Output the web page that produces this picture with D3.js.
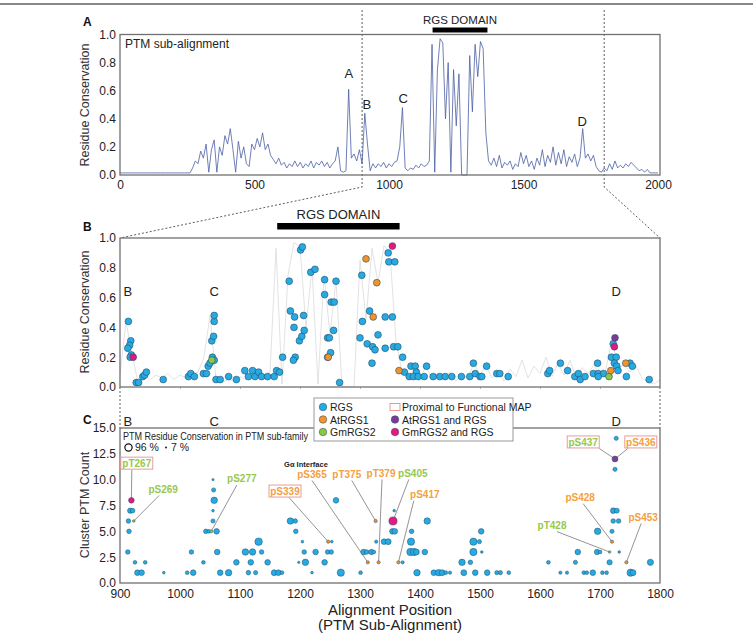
<!DOCTYPE html>
<html>
<head>
<meta charset="utf-8">
<script src="https://cdn.jsdelivr.net/npm/d3@7"></script>
<style>
  body { margin: 0; background: #fff; }
  svg { font-family: 'Liberation Sans', Arial, Helvetica, sans-serif; }
</style>
</head>
<body>
<svg id="chart"></svg>
<script>
// residue conservation along the PTM sub-alignment, one value every 10 positions (0..2000)
const consStep = 10
const conservation = [
  0.015, 0.015, 0.015, 0.015, 0.015, 0.015, 0.015, 0.015, 0.015, 0.015,
  0.015, 0.015, 0.015, 0.015, 0.015, 0.015, 0.015, 0.015, 0.015, 0.015,
  0.015, 0.015, 0.015, 0.015, 0.015, 0.015, 0.015,
  0.05, 0.10, 0.08, 0.17, 0.12, 0.22, 0.02, 0.18, 0.25, 0.02,
  0.20, 0.14, 0.28, 0.22, 0.33, 0.18, 0.02, 0.24, 0.12, 0.20,
  0.08, 0.06, 0.22, 0.18, 0.26, 0.20, 0.30, 0.18, 0.22, 0.14,
  0.11, 0.08, 0.12, 0.07, 0.09, 0.05, 0.08, 0.06, 0.10, 0.06,
  0.09, 0.05, 0.08, 0.06, 0.10, 0.05, 0.09, 0.07, 0.10, 0.06,
  0.09, 0.05, 0.08, 0.10, 0.20, 0.03, 0.02, 0.03, 0.61, 0.12,
  0.15, 0.10, 0.18, 0.08, 0.44, 0.22, 0.03, 0.08, 0.05, 0.08,
  0.06, 0.09, 0.05, 0.08, 0.06, 0.09, 0.10, 0.20, 0.48, 0.05,
  0.03, 0.05, 0.04, 0.07, 0.05, 0.08, 0.06, 0.07, 0.10, 0.93,
  0.02, 0.75, 0.97, 0.94, 0.40, 0.80, 0.02, 0.75, 0.35, 0.72,
  0.0, 0.0, 0.0, 0.85, 0.45, 0.93, 0.70, 0.95, 0.90, 0.30,
  0.10,
  0.07, 0.12, 0.06, 0.14, 0.05, 0.09, 0.07, 0.10, 0.04, 0.08,
  0.06, 0.16, 0.08, 0.14, 0.06, 0.10, 0.04, 0.12, 0.07, 0.18,
  0.06, 0.14, 0.09, 0.20, 0.07, 0.16, 0.08, 0.18, 0.06, 0.13,
  0.09, 0.15, 0.06, 0.12, 0.33, 0.12, 0.15, 0.10, 0.14, 0.06,
  0.03, 0.02, 0.05, 0.03, 0.08, 0.04, 0.10, 0.05, 0.07, 0.05,
  0.08, 0.06, 0.09, 0.07, 0.05, 0.03, 0.04, 0.02, 0.04,
  0.015, 0.015, 0.015, 0.015
]

const rgsDomain = [1162, 1366]
const zoomRange = [900, 1800]
const fullTicks = [0, 500, 1000, 1500, 2000]
const consTicks = [0, 0.2, 0.4, 0.6, 0.8, 1.0]
const countTicks = [0, 2.5, 5, 7.5, 10, 12.5, 15]
const posTicks = [900, 1000, 1100, 1200, 1300, 1400, 1500, 1600, 1700, 1800]

// peak names in panel A: [label, position, conservation]
const peakLabels = [['A', 851, 0.69], ['B', 918, 0.47], ['C', 1053, 0.51], ['D', 1718, 0.35]]
// region names in panels B and C
const regionLabels = [['B', 913], ['C', 1057], ['D', 1727]]

const categories = ['RGS', 'AtRGS1', 'GmRGS2', 'AtRGS1 and RGS', 'GmRGS2 and RGS']
const catKeys = ['rgs', 'at', 'gm', 'at2', 'gm2']

// panel B: PTM sites [position, conservation, category]
const ptmSites = [
  [914, 0.44, 'rgs'], [918, 0.31, 'rgs'], [916, 0.28, 'rgs'], [913, 0.26, 'rgs'], [919, 0.215, 'rgs'],
  [917, 0.20, 'rgs'], [922, 0.20, 'gm2'], [927, 0.03, 'rgs'], [931, 0.03, 'rgs'], [938, 0.07, 'rgs'],
  [941, 0.08, 'rgs'], [944, 0.10, 'rgs'], [972, 0.05, 'rgs'], [1014, 0.07, 'rgs'], [1018, 0.09, 'rgs'],
  [1024, 0.07, 'rgs'], [1039, 0.09, 'rgs'], [1044, 0.09, 'rgs'], [1047, 0.14, 'rgs'], [1050, 0.16, 'rgs'],
  [1054, 0.20, 'rgs'], [1057, 0.18, 'rgs'], [1053, 0.18, 'gm'], [1053, 0.31, 'rgs'], [1056, 0.34, 'rgs'],
  [1057, 0.44, 'rgs'], [1057, 0.48, 'rgs'], [1060, 0.05, 'rgs'], [1067, 0.05, 'rgs'], [1081, 0.07, 'rgs'],
  [1094, 0.05, 'rgs'], [1108, 0.11, 'rgs'], [1121, 0.11, 'rgs'], [1114, 0.07, 'rgs'], [1125, 0.07, 'rgs'],
  [1131, 0.10, 'rgs'], [1136, 0.07, 'rgs'], [1146, 0.07, 'rgs'], [1157, 0.07, 'rgs'], [1161, 0.11, 'rgs'],
  [1166, 0.10, 'rgs'], [1171, 0.20, 'rgs'], [1182, 0.71, 'rgs'], [1184, 0.51, 'rgs'], [1191, 0.47, 'rgs'],
  [1190, 0.40, 'rgs'], [1192, 0.20, 'rgs'], [1189, 0.18, 'rgs'], [1201, 0.92, 'rgs'], [1204, 0.94, 'rgs'],
  [1199, 0.31, 'rgs'], [1203, 0.34, 'rgs'], [1207, 0.38, 'rgs'], [1206, 0.48, 'rgs'], [1218, 0.77, 'rgs'],
  [1225, 0.79, 'rgs'], [1241, 0.72, 'rgs'], [1241, 0.62, 'rgs'], [1252, 0.57, 'rgs'], [1257, 0.57, 'rgs'],
  [1260, 0.71, 'rgs'], [1256, 0.38, 'rgs'], [1246, 0.33, 'rgs'], [1249, 0.33, 'rgs'], [1251, 0.23, 'rgs'],
  [1246, 0.20, 'rgs'], [1247, 0.20, 'at'], [1266, 0.03, 'rgs'], [1303, 0.75, 'rgs'], [1310, 0.86, 'at'],
  [1328, 0.70, 'at'], [1322, 0.47, 'at'], [1304, 0.44, 'rgs'], [1316, 0.51, 'rgs'], [1300, 0.33, 'rgs'],
  [1312, 0.29, 'rgs'], [1321, 0.27, 'rgs'], [1325, 0.25, 'rgs'], [1320, 0.16, 'rgs'], [1330, 0.35, 'rgs'],
  [1342, 0.47, 'rgs'], [1342, 0.26, 'rgs'], [1347, 0.90, 'rgs'], [1354, 0.946, 'gm2'], [1348, 0.84, 'rgs'],
  [1358, 0.84, 'rgs'], [1354, 0.47, 'rgs'], [1356, 0.27, 'rgs'], [1363, 0.27, 'rgs'], [1371, 0.20, 'rgs'],
  [1365, 0.11, 'at'], [1374, 0.10, 'rgs'], [1385, 0.14, 'rgs'], [1392, 0.14, 'rgs'], [1394, 0.10, 'rgs'],
  [1411, 0.14, 'rgs'], [1382, 0.07, 'rgs'], [1389, 0.07, 'rgs'], [1397, 0.07, 'rgs'], [1407, 0.07, 'rgs'],
  [1422, 0.07, 'rgs'], [1433, 0.07, 'rgs'], [1442, 0.07, 'rgs'], [1453, 0.07, 'rgs'], [1469, 0.07, 'rgs'],
  [1483, 0.07, 'rgs'], [1492, 0.09, 'rgs'], [1500, 0.07, 'rgs'], [1503, 0.07, 'rgs'], [1489, 0.16, 'rgs'],
  [1511, 0.14, 'rgs'], [1528, 0.09, 'rgs'], [1533, 0.09, 'rgs'], [1547, 0.07, 'rgs'], [1613, 0.09, 'rgs'],
  [1616, 0.11, 'rgs'], [1634, 0.16, 'rgs'], [1646, 0.11, 'rgs'], [1658, 0.07, 'rgs'], [1664, 0.09, 'rgs'],
  [1667, 0.05, 'rgs'], [1675, 0.07, 'rgs'], [1689, 0.09, 'rgs'], [1697, 0.09, 'rgs'], [1706, 0.09, 'rgs'],
  [1696, 0.16, 'rgs'], [1697, 0.07, 'rgs'], [1719, 0.20, 'rgs'], [1727, 0.20, 'rgs'], [1724, 0.16, 'rgs'],
  [1728, 0.14, 'rgs'], [1730, 0.11, 'rgs'], [1722, 0.29, 'rgs'], [1750, 0.16, 'rgs'], [1754, 0.14, 'rgs'],
  [1744, 0.07, 'rgs'], [1782, 0.05, 'rgs'], [1715, 0.07, 'gm'], [1718, 0.11, 'at'], [1724, 0.27, 'gm2'],
  [1725, 0.33, 'at2'], [1743, 0.16, 'at']
]

// panel C: PTM clusters [position, cluster PTM count, conservation in sub-family, category]
const clusters = [
  [917, 7, 0.40, 'rgs'], [921, 7, 0.30, 'rgs'], [914, 6, 0.30, 'rgs'], [915, 5, 0.30, 'rgs'], [913, 3, 0.30, 'rgs'],
  [925, 2, 0.20, 'rgs'], [942, 2, 0.20, 'rgs'], [929, 1, 0.45, 'rgs'], [936, 1, 0.45, 'rgs'], [973, 1, 0.10, 'rgs'],
  [1012, 1, 0.20, 'rgs'], [1022, 1, 0.45, 'rgs'], [1019, 3, 0.30, 'rgs'], [1039, 2, 0.20, 'rgs'],
  [1043, 5, 0.30, 'rgs'], [1048, 5, 0.20, 'rgs'], [1061, 5, 0.45, 'rgs'], [1055, 10, 0.07, 'rgs'],
  [1056, 9, 0.25, 'rgs'], [1057, 8, 0.60, 'rgs'], [1055, 7, 0.10, 'rgs'], [1055, 6, 0.25, 'rgs'],
  [1062, 3, 0.45, 'rgs'], [1067, 1, 0.45, 'rgs'], [1081, 1, 0.60, 'rgs'], [1094, 2, 0.45, 'rgs'],
  [1109, 3, 0.60, 'rgs'], [1121, 3, 0.60, 'rgs'], [1131, 4, 0.80, 'rgs'], [1136, 3, 0.30, 'rgs'],
  [1118, 2, 0.45, 'rgs'], [1146, 2, 0.45, 'rgs'], [1114, 1, 0.30, 'rgs'], [1126, 1, 0.25, 'rgs'],
  [1157, 1, 0.50, 'rgs'], [1164, 1, 0.45, 'rgs'], [1170, 1, 0.20, 'rgs'], [1184, 6, 0.60, 'rgs'],
  [1192, 6, 0.30, 'rgs'], [1193, 5, 0.30, 'rgs'], [1204, 4, 0.10, 'rgs'], [1207, 3, 0.30, 'rgs'],
  [1209, 2, 0.60, 'rgs'], [1198, 2, 0.08, 'rgs'], [1220, 1, 0.10, 'rgs'], [1226, 3, 0.45, 'rgs'],
  [1241, 2, 0.45, 'rgs'], [1246, 3, 0.30, 'rgs'], [1252, 3, 0.30, 'rgs'], [1253, 4, 0.10, 'rgs'],
  [1260, 8, 0.45, 'rgs'], [1268, 1, 0.75, 'rgs'], [1301, 1, 0.20, 'rgs'], [1306, 3, 0.45, 'rgs'],
  [1311, 3, 0.30, 'rgs'], [1319, 3, 0.40, 'rgs'], [1323, 3, 0.20, 'rgs'], [1327, 4, 0.15, 'rgs'],
  [1340, 4, 0.45, 'rgs'], [1347, 4, 0.50, 'rgs'], [1357, 7, 0.10, 'rgs'], [1354, 5, 0.45, 'rgs'],
  [1358, 5, 0.45, 'rgs'], [1371, 2, 0.15, 'rgs'], [1386, 5, 0.30, 'rgs'], [1385, 4, 0.75, 'rgs'],
  [1384, 3, 0.75, 'rgs'], [1390, 3, 0.75, 'rgs'], [1394, 3, 0.50, 'rgs'], [1408, 3, 0.45, 'rgs'],
  [1412, 6, 0.60, 'rgs'], [1395, 1, 0.60, 'rgs'], [1423, 1, 0.45, 'rgs'], [1431, 1, 0.60, 'rgs'],
  [1437, 1, 0.50, 'rgs'], [1443, 1, 0.20, 'rgs'], [1450, 1, 0.15, 'rgs'], [1470, 2, 0.60, 'rgs'],
  [1484, 2, 0.30, 'rgs'], [1473, 1, 0.50, 'rgs'], [1492, 1, 0.45, 'rgs'], [1512, 1, 0.45, 'rgs'],
  [1528, 1, 0.25, 'rgs'], [1534, 1, 0.25, 'rgs'], [1548, 1, 0.20, 'rgs'], [1489, 4, 0.75, 'rgs'],
  [1499, 4, 0.25, 'rgs'], [1489, 3, 0.75, 'rgs'], [1503, 3, 0.10, 'rgs'], [1502, 5, 0.45, 'rgs'],
  [1614, 2, 0.20, 'rgs'], [1634, 1, 0.15, 'rgs'], [1645, 1, 0.15, 'rgs'], [1659, 2, 0.25, 'rgs'],
  [1663, 3, 0.45, 'rgs'], [1673, 1, 0.20, 'rgs'], [1678, 1, 0.20, 'rgs'], [1688, 1, 0.45, 'rgs'],
  [1704, 1, 0.20, 'rgs'], [1711, 1, 0.20, 'rgs'], [1696, 5, 0.60, 'rgs'], [1695, 3, 0.40, 'rgs'],
  [1700, 3, 0.20, 'rgs'], [1716, 2, 0.40, 'rgs'], [1732, 3, 0.10, 'rgs'], [1720, 5, 0.25, 'rgs'],
  [1722, 6, 0.30, 'rgs'], [1731, 6, 0.30, 'rgs'], [1722, 7, 0.45, 'rgs'], [1728, 7, 0.35, 'rgs'],
  [1725, 11, 0.25, 'rgs'], [1727, 14, 0.25, 'rgs'], [1751, 1, 0.75, 'rgs'], [1755, 1, 0.50, 'rgs'],
  [1784, 2, 0.55, 'rgs'],
  [919, 8, 0.45, 'gm2'], [923, 6, 0.10, 'gm'], [1052, 5, 0.15, 'gm'], [1247, 4, 0.15, 'at'],
  [1313, 2, 0.15, 'at'], [1326, 6, 0.15, 'at'], [1331, 2, 0.15, 'at'], [1355, 6, 0.96, 'gm2'],
  [1364, 2, 0.15, 'at'], [1720, 4, 0.15, 'at'], [1716, 3, 0.10, 'gm'], [1744, 2, 0.15, 'at'],
  [1725, 12, 0.50, 'at2']
]

// site annotations in panel C: [text, family, boxed, label pos, label count, target pos, target count, line start dx]
const siteLabels = [
  ['pT267', 'gm', true, 928, 11.6, 919, 8, -5],
  ['pS269', 'gm', false, 972, 9.1, 923, 6, -4],
  ['pS277', 'gm', false, 1103, 10.1, 1052, 5, -5],
  ['pS339', 'at', true, 1175, 8.9, 1247, 4, 4],
  ['pS365', 'at', false, 1220, 10.55, 1313, 2, 0],
  ['pT375', 'at', false, 1278, 10.55, 1326, 6, 5],
  ['pT379', 'at', false, 1335, 10.65, 1331, 2, 1],
  ['pS405', 'gm', false, 1388, 10.65, 1355, 6, -4],
  ['pS417', 'at', false, 1408, 8.6, 1364, 2, -11],
  ['pS437', 'gm', true, 1672, 13.65, 1725, 12, 16],
  ['pS436', 'at', true, 1768, 13.65, 1725, 12, -13],
  ['pS428', 'at', false, 1667, 8.3, 1720, 4, 3],
  ['pT428', 'gm', false, 1620, 5.6, 1716, 3, 5],
  ['pS453', 'at', false, 1772, 6.4, 1744, 2, -2]
]

const colors = { rgs: '#27a9e1', at: '#f3922b', gm: '#8dc63f', at2: '#7e3b96', gm2: '#e5187f' }
const labelColors = { at: '#f5a041', gm: '#97c84c' }
const boxPink = '#e88f8f'

const svg = d3.select('#chart').attr('width', 753).attr('height', 634)

// scales
const xA = d3.scaleLinear().domain([0, 2000]).range([120, 658])
const yA = d3.scaleLinear().domain([0, 1]).range([175, 34.5])
const xZ = d3.scaleLinear().domain(zoomRange).range([120, 660])
const yB = d3.scaleLinear().domain([0, 1]).range([387, 238])
const yC = d3.scaleLinear().domain([0, 15]).range([583, 428])
const rC = d3.scaleSqrt().domain([0, 1]).range([0, 4.2])

const consData = conservation.map((v, i) => [i * consStep, v])
const intFmt = d3.format('d')

// top rule
svg.append('line').attr('x1', 0).attr('x2', 753).attr('y1', 4).attr('y2', 4)
  .attr('stroke', '#888').attr('stroke-width', 2)

function styleAxis (g, size) {
  g.select('.domain').remove()
  g.selectAll('text').attr('fill', '#222').style('font-size', size + 'px')
}

function panelLetter (t, x, y) {
  svg.append('text').attr('x', x).attr('y', y).text(t)
    .style('font-size', '12px').style('font-weight', 'bold').attr('fill', '#111')
}

function yTitle (t, cy) {
  svg.append('text').attr('transform', `translate(89,${cy}) rotate(-90)`)
    .attr('text-anchor', 'middle').style('font-size', '12.5px').attr('fill', '#333').text(t)
}

// ---------- panel A ----------
panelLetter('A', 83, 26)

// zoom guides (dashed)
function dashed (pts) {
  svg.append('path').attr('d', d3.line()(pts))
    .attr('stroke', '#333').attr('stroke-width', 0.8).attr('stroke-dasharray', '2,2').attr('fill', 'none')
}
dashed([[xA(zoomRange[0]), 10], [xA(zoomRange[0]), 187], [xZ(zoomRange[0]), yB(1)]])
dashed([[xA(zoomRange[1]), 10], [xA(zoomRange[1]), 187], [xZ(zoomRange[1]), yB(1)]])
dashed([[xZ(zoomRange[0]), yB(0)], [xZ(zoomRange[0]), yC(15)]])
dashed([[xZ(zoomRange[1]), yB(0)], [xZ(zoomRange[1]), yC(15)]])

svg.append('path').datum(consData)
  .attr('d', d3.line().x(d => xA(d[0])).y(d => yA(d[1])))
  .attr('fill', 'none').attr('stroke', '#4b5fa3').attr('stroke-width', 0.8)

svg.append('rect').attr('x', 120).attr('y', 34.5).attr('width', 540).attr('height', 140.5)
  .attr('fill', 'none').attr('stroke', '#707070').attr('stroke-width', 1.3)

svg.append('g').attr('transform', 'translate(120,0)')
  .call(d3.axisLeft(yA).tickValues(consTicks).tickFormat(d3.format('.1f')).tickSize(0).tickPadding(4))
  .call(g => styleAxis(g, 12))
svg.append('g').attr('transform', 'translate(0,175)')
  .call(d3.axisBottom(xA).tickValues(fullTicks).tickFormat(intFmt).tickSize(0).tickPadding(5))
  .call(g => styleAxis(g, 12))
yTitle('Residue Conservation', 105)

svg.append('text').attr('x', 125).attr('y', 48).text('PTM sub-alignment')
  .style('font-size', '12px').attr('fill', '#222')

svg.selectAll('.peak').data(peakLabels).enter().append('text')
  .attr('x', d => xA(d[1])).attr('y', d => yA(d[2]))
  .attr('text-anchor', 'middle').style('font-size', '13px').attr('fill', '#222').text(d => d[0])

svg.append('rect').attr('x', xA(rgsDomain[0])).attr('y', 27.5)
  .attr('width', xA(rgsDomain[1]) - xA(rgsDomain[0])).attr('height', 5).attr('fill', '#000')
svg.append('text').attr('x', (xA(rgsDomain[0]) + xA(rgsDomain[1])) / 2).attr('y', 24)
  .attr('text-anchor', 'middle').style('font-size', '11.5px').attr('fill', '#222').text('RGS DOMAIN')

// ---------- panel B ----------
panelLetter('B', 83, 231)

svg.append('rect').attr('x', xZ(rgsDomain[0])).attr('y', 223)
  .attr('width', xZ(rgsDomain[1]) - xZ(rgsDomain[0])).attr('height', 6.5).attr('fill', '#000')
svg.append('text').attr('x', (xZ(rgsDomain[0]) + xZ(rgsDomain[1])) / 2).attr('y', 219)
  .attr('text-anchor', 'middle').style('font-size', '13px').attr('fill', '#222').text('RGS DOMAIN')

svg.append('path').datum(consData.filter(d => d[0] >= zoomRange[0] && d[0] <= zoomRange[1]))
  .attr('d', d3.line().x(d => xZ(d[0])).y(d => yB(d[1])))
  .attr('fill', 'none').attr('stroke', '#dadada').attr('stroke-width', 0.8)

svg.append('g').attr('transform', 'translate(120,0)')
  .call(d3.axisLeft(yB).tickValues(consTicks).tickFormat(d3.format('.1f')).tickSize(0).tickPadding(4))
  .call(g => styleAxis(g, 12))
svg.append('g').attr('transform', 'translate(0,387)')
  .call(d3.axisBottom(xZ).tickValues(posTicks).tickSize(2).tickFormat(''))
  .call(g => { g.select('.domain').remove(); g.selectAll('line').attr('stroke', '#bbb') })
yTitle('Residue Conservation', 312)

svg.selectAll('.regB').data(regionLabels).enter().append('text')
  .attr('x', d => xZ(d[1])).attr('y', 296).attr('text-anchor', 'middle')
  .style('font-size', '13px').attr('fill', '#222').text(d => d[0])

const sitesSorted = ptmSites.slice().sort((a, b) => (a[2] === 'rgs' ? 0 : 1) - (b[2] === 'rgs' ? 0 : 1))
svg.selectAll('.site').data(sitesSorted).enter().append('circle')
  .attr('cx', d => xZ(d[0])).attr('cy', d => yB(d[1])).attr('r', 3.4)
  .attr('fill', d => colors[d[2]]).attr('stroke', '#23506d').attr('stroke-width', 0.6)

svg.append('rect').attr('x', 120).attr('y', 238).attr('width', 540).attr('height', 149)
  .attr('fill', 'none').attr('stroke', '#707070').attr('stroke-width', 1.3)

// ---------- panel C ----------
panelLetter('C', 83, 424)

svg.selectAll('.regC').data(regionLabels).enter().append('text')
  .attr('x', d => xZ(d[1])).attr('y', 426).attr('text-anchor', 'middle')
  .style('font-size', '13px').attr('fill', '#222').text(d => d[0])

svg.append('rect').attr('x', 120).attr('y', 428).attr('width', 540).attr('height', 155)
  .attr('fill', 'none').attr('stroke', '#707070').attr('stroke-width', 1.3)

svg.append('g').attr('transform', 'translate(120,0)')
  .call(d3.axisLeft(yC).tickValues(countTicks).tickFormat(d3.format('.1f')).tickSize(0).tickPadding(4))
  .call(g => styleAxis(g, 12))
svg.append('g').attr('transform', 'translate(0,583)')
  .call(d3.axisBottom(xZ).tickValues(posTicks).tickFormat(intFmt).tickSize(0).tickPadding(6))
  .call(g => styleAxis(g, 12))
yTitle('Cluster PTM Count', 505)

svg.append('text').attr('x', 390).attr('y', 614.5).attr('text-anchor', 'middle')
  .style('font-size', '15px').attr('fill', '#222').text('Alignment Position')
svg.append('text').attr('x', 390).attr('y', 630).attr('text-anchor', 'middle')
  .style('font-size', '15px').attr('fill', '#222').text('(PTM Sub-Alignment)')

// size key
svg.append('text').attr('x', 123).attr('y', 440).style('font-size', '10px').attr('fill', '#222')
  .attr('textLength', 185).attr('lengthAdjust', 'spacingAndGlyphs')
  .text('PTM Residue Conservation in PTM sub-family')
svg.append('circle').attr('cx', 128.5).attr('cy', 447.5).attr('r', rC(0.96) - 0.5)
  .attr('fill', 'none').attr('stroke', '#111').attr('stroke-width', 1.2)
svg.append('text').attr('x', 135).attr('y', 451).style('font-size', '10.5px').attr('fill', '#222').text('96 %')
svg.append('circle').attr('cx', 166).attr('cy', 447.5).attr('r', rC(0.07))
  .attr('fill', '#333')
svg.append('text').attr('x', 171).attr('y', 451).style('font-size', '10.5px').attr('fill', '#222').text('7 %')

svg.append('text').attr('x', xZ(1210)).attr('y', yC(11.3) + 1).attr('text-anchor', 'middle')
  .style('font-size', '7.5px').style('font-weight', 'bold').attr('fill', '#222').text('G\u03b1 Interface')

// leader lines
svg.selectAll('.leader').data(siteLabels).enter().append('line')
  .attr('x1', d => xZ(d[3]) + d[7]).attr('y1', d => yC(d[4]) + 6.5)
  .attr('x2', d => xZ(d[5])).attr('y2', d => yC(d[6]))
  .attr('stroke', '#666').attr('stroke-width', 0.7)

const clustersSorted = clusters.slice().sort((a, b) => (a[3] === 'rgs' ? 0 : 1) - (b[3] === 'rgs' ? 0 : 1))
svg.selectAll('.cluster').data(clustersSorted).enter().append('circle')
  .attr('cx', d => xZ(d[0])).attr('cy', d => yC(d[1])).attr('r', d => rC(d[2]))
  .attr('fill', d => colors[d[3]]).attr('stroke', '#23506d').attr('stroke-width', 0.5)

// site labels
const lab = svg.selectAll('.sitelab').data(siteLabels).enter().append('g')
lab.filter(d => d[2]).append('rect')
  .attr('x', d => xZ(d[3]) - 16).attr('y', d => yC(d[4]) - 6)
  .attr('width', 32).attr('height', 12)
  .attr('fill', '#fff').attr('stroke', boxPink).attr('stroke-width', 0.9)
lab.append('text')
  .attr('x', d => xZ(d[3])).attr('y', d => yC(d[4]) + 3.8)
  .attr('text-anchor', 'middle').style('font-size', '10px').style('font-weight', 'bold')
  .attr('fill', d => labelColors[d[1]]).text(d => d[0])

// category legend
const legend = svg.append('g')
legend.append('rect').attr('x', 314).attr('y', 398).attr('width', 199).attr('height', 43)
  .attr('fill', '#fff').attr('stroke', '#999').attr('stroke-width', 1)
const legendCols = [323, 395]
const legendRows = [407, 419.5, 432]
const legendItems = [
  [categories[0], catKeys[0], 0, 0], [categories[1], catKeys[1], 0, 1], [categories[2], catKeys[2], 0, 2],
  ['Proximal to Functional MAP', null, 1, 0], [categories[3], catKeys[3], 1, 1], [categories[4], catKeys[4], 1, 2]
]
legendItems.forEach(([name, key, c, r]) => {
  const cx = legendCols[c]
  const cy = legendRows[r]
  if (key) {
    legend.append('circle').attr('cx', cx).attr('cy', cy).attr('r', 3.8)
      .attr('fill', colors[key]).attr('stroke', '#23506d').attr('stroke-width', 0.5)
  } else {
    legend.append('rect').attr('x', cx - 5).attr('y', cy - 3.5).attr('width', 10).attr('height', 7)
      .attr('fill', '#fff').attr('stroke', boxPink).attr('stroke-width', 0.9)
  }
  legend.append('text').attr('x', cx + 7).attr('y', cy + 4)
    .style('font-size', '10.5px').attr('fill', '#222').text(name)
})
</script>
</body>
</html>
